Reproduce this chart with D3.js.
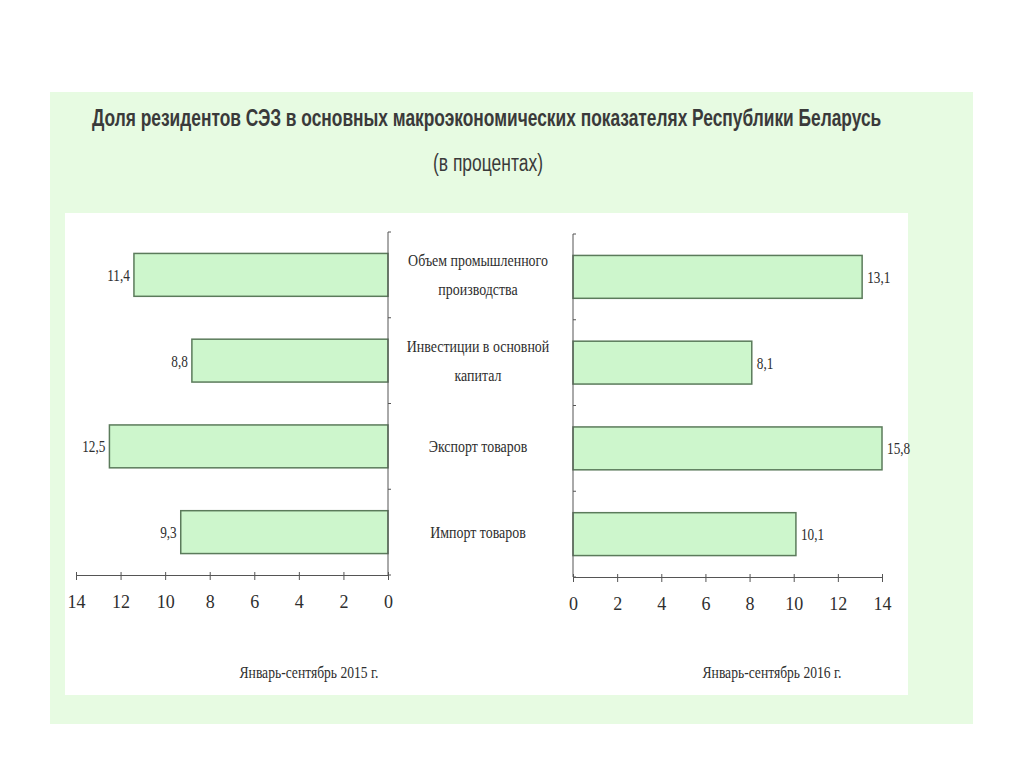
<!DOCTYPE html>
<html>
<head>
<meta charset="utf-8">
<script src="https://cdn.jsdelivr.net/npm/d3@7"></script>
<style>
  body { margin: 0; background: #ffffff; }
  .axis path, .axis line { stroke: #555555; }
  .serif { font-family: "Liberation Serif", serif; fill: #2e2e2e; }
</style>
</head>
<body>
<div class="chart"></div>
<script>

// DATA -----------------------------------

var categories = ["Объем промышленного производства", "Инвестиции в основной капитал", "Экспорт товаров", "Импорт товаров"];
// category labels split into lines
var categoryLines = [["Объем промышленного", "производства"], ["Инвестиции в основной", "капитал"], ["Экспорт товаров"], ["Импорт товаров"]];
var values2015 = [11.4, 8.8, 12.5, 9.3];
var values2016 = [13.1, 8.1, 15.8, 10.1];
var valueLabels2015 = ["11,4", "8,8", "12,5", "9,3"];
var valueLabels2016 = ["13,1", "8,1", "15,8", "10,1"];
var tickValues = [0, 2, 4, 6, 8, 10, 12, 14];
var periodLabels = ["Январь-сентябрь 2015 г.", "Январь-сентябрь 2016 г."];

// SET UP SVG ELEMENT -----------------------------------

var svgWidth = 1024;
var svgHeight = 767;

var svg = d3.select(".chart")
  .append("svg")
  .attr("width", svgWidth)
  .attr("height", svgHeight);

// helper: squeeze a text horizontally (narrow fonts aren't installed)
function narrow(sel, x, y, sx, anchor) {
  sel.attr("x", 0)
    .attr("y", 0)
    .attr("text-anchor", anchor)
    .attr("transform", `translate(${x}, ${y}) scale(${sx}, 1)`);
  return sel;
}

// light green outer panel
svg.append("rect")
  .attr("x", 50)
  .attr("y", 92)
  .attr("width", 923)
  .attr("height", 632)
  .attr("fill", "#e7fbe2");

// white inner panel
svg.append("rect")
  .attr("x", 65)
  .attr("y", 213)
  .attr("width", 843)
  .attr("height", 482)
  .attr("fill", "#ffffff");

// titles - squeezed to the width they have in the picture
var title = svg.append("text")
  .style("font-family", "Liberation Sans, Arial, sans-serif")
  .style("font-weight", "bold")
  .style("font-size", "23px")
  .style("fill", "#3a3a3a")
  .text("Доля резидентов СЭЗ в основных макроэкономических показателях Республики Беларусь");
var titleW = title.node().getComputedTextLength();
narrow(title, 92, 126, 790 / titleW, "start");

var subtitle = svg.append("text")
  .style("font-family", "Liberation Sans, Arial, sans-serif")
  .style("font-size", "23px")
  .style("fill", "#3a3a3a")
  .text("(в процентах)");
var subW = subtitle.node().getComputedTextLength();
narrow(subtitle, 433, 171, 110 / subW, "start");

// SCALES -----------------------------------

// left chart: values grow to the left
var xLeft = d3.scaleLinear()
  .domain([0, 14])
  .range([388, 76]);

// right chart: values grow to the right, long bars stop at the axis end
var xRight = d3.scaleLinear()
  .domain([0, 14])
  .range([573, 882])
  .clamp(true);

var yLeft = d3.scaleBand()
  .domain(categories)
  .range([232, 575])
  .paddingInner(0.5)
  .paddingOuter(0.25);

var yRight = d3.scaleBand()
  .domain(categories)
  .range([234, 577])
  .paddingInner(0.5)
  .paddingOuter(0.25);

// DRAW ONE HALF -----------------------------------

function drawHalf(xScale, yScale, values, labels, side) {

  var zero = xScale(0);
  var axisY = yScale.range()[1];

  // bars
  svg.selectAll(".bar-" + side)
    .data(values)
    .enter()
    .append("rect")
    .attr("class", "bar-" + side)
    .attr("x", d => Math.min(zero, xScale(d)))
    .attr("y", (d, i) => yScale(categories[i]))
    .attr("width", d => Math.abs(xScale(d) - zero))
    .attr("height", yScale.bandwidth())
    .attr("fill", "#cdf6cc")
    .attr("stroke", "#5b7b5b")
    .attr("stroke-width", 1.5);

  // value labels
  svg.selectAll(".val-" + side)
    .data(values)
    .enter()
    .append("text")
    .attr("class", "serif val-" + side)
    .style("font-size", "17px")
    .text((d, i) => labels[i])
    .each(function(d, i) {
      var lx = side === "left" ? xScale(d) - 4 : xScale(d) + 5;
      var ly = yScale(categories[i]) + yScale.bandwidth() / 2 + 6;
      narrow(d3.select(this), lx, ly, 0.78, side === "left" ? "end" : "start");
    });

  // vertical axis with ticks on category boundaries
  var boundaries = [yScale.range()[0]].concat(categories.map(c => yScale(c) + yScale.bandwidth() + yScale.step() * yScale.paddingInner() / 2));
  svg.append("line")
    .attr("x1", zero).attr("x2", zero)
    .attr("y1", yScale.range()[0]).attr("y2", axisY)
    .attr("stroke", "#555555");
  svg.selectAll(".ytick-" + side)
    .data(boundaries)
    .enter()
    .append("line")
    .attr("x1", zero).attr("x2", zero + 3)
    .attr("y1", d => d).attr("y2", d => d)
    .attr("stroke", "#555555");

  // bottom axis
  var axis = d3.axisBottom(xScale)
    .tickValues(tickValues)
    .tickSize(5)
    .tickSizeOuter(0)
    .tickPadding(15);

  var axisGroup = svg.append("g")
    .attr("class", "axis")
    .attr("transform", `translate(0, ${axisY})`)
    .call(axis);

  axisGroup.selectAll("text")
    .style("font-family", "Liberation Serif, serif")
    .style("font-size", "18px")
    .style("fill", "#2e2e2e")
    .attr("transform", "scale(0.85, 1)")
    .attr("x", function() { return 0; });

  // keep the squeezed labels centred on their ticks
  axisGroup.selectAll(".tick text")
    .attr("transform", null);

  axisGroup.selectAll(".tick line")
    .attr("y1", -3);
}

drawHalf(xLeft, yLeft, values2015, valueLabels2015, "left");
drawHalf(xRight, yRight, values2016, valueLabels2016, "right");

// CATEGORY LABELS -----------------------------------

categoryLines.forEach(function(lines, i) {
  var top = yLeft(categories[i]) + yLeft.bandwidth() / 2 - (lines.length - 1) * 14.5 + 6;
  lines.forEach(function(line, j) {
    var t = svg.append("text")
      .attr("class", "serif")
      .style("font-size", "17px")
      .text(line);
    narrow(t, 478, top + j * 29, 0.82, "middle");
  });
});

// period labels
periodLabels.forEach(function(label, i) {
  var t = svg.append("text")
    .attr("class", "serif")
    .style("font-size", "17px")
    .text(label);
  narrow(t, i === 0 ? 309 : 772, 678, 0.8, "middle");
});

</script>
</body>
</html>
